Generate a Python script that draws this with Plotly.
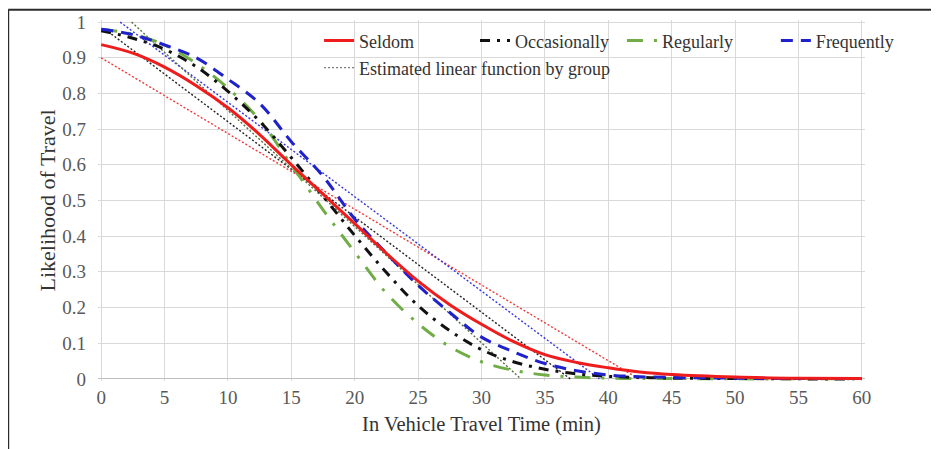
import plotly.graph_objects as go

# ---------------- data ----------------
time_min = [0, 2.5, 5, 7.5, 10, 12.5, 15, 17.5, 20, 22.5, 25, 27.5, 30,
            32.5, 35, 37.5, 40, 42.5, 45, 50, 55, 60]
seldom = [0.937, 0.913, 0.874, 0.822, 0.760, 0.685, 0.600, 0.518, 0.435, 0.352,
          0.274, 0.208, 0.153, 0.105, 0.068, 0.046, 0.031, 0.019, 0.012, 0.005,
          0.002, 0.001]
occasionally = [0.976, 0.955, 0.924, 0.875, 0.806, 0.722, 0.620, 0.512, 0.402,
                0.298, 0.205, 0.135, 0.082, 0.048, 0.027, 0.014, 0.007, 0.004,
                0.002, 0.001, 0.0, 0.0]
regularly = [0.980, 0.966, 0.936, 0.884, 0.815, 0.725, 0.600, 0.474, 0.355,
             0.240, 0.155, 0.090, 0.048, 0.024, 0.011, 0.005, 0.002, 0.001,
             0.001, 0.0, 0.0, 0.0]
frequently = [0.980, 0.965, 0.936, 0.900, 0.840, 0.772, 0.665, 0.568, 0.448,
              0.352, 0.262, 0.186, 0.117, 0.076, 0.043, 0.023, 0.011, 0.006,
              0.004, 0.002, 0.001, 0.001]

# estimated linear functions (end points)
seldom_lin_t, seldom_lin_p = [0, 42.4], [0.90, 0.0]
occas_lin_t, occas_lin_p = [0.3, 37.0], [0.98, 0.0]
regul_lin_t, regul_lin_p = [2.4, 33.1], [1.0, 0.0]
frequ_lin_t, frequ_lin_p = [1.5, 39.3], [1.0, 0.0]

x_ticks = [0, 5, 10, 15, 20, 25, 30, 35, 40, 45, 50, 55, 60]
y_ticks = [0, 0.1, 0.2, 0.3, 0.4, 0.5, 0.6, 0.7, 0.8, 0.9, 1]
y_tick_text = ["0", "0.1", "0.2", "0.3", "0.4", "0.5", "0.6", "0.7", "0.8", "0.9", "1"]

names = ["Seldom", "Occasionally", "Regularly", "Frequently"]
lin_name = "Estimated linear function by group"

# ---------------- layout geometry (screen pixels; page body has 8px margin) ----------------
OFF = 8
W, H = 939 - OFF, 449 - OFF
X0_PX, X60_PX = 101.0 - OFF, 862.0 - OFF
Y1_PX, Y0_PX = 22.3 - OFF, 378.8 - OFF
XR = [-0.25, 60.25]
YR = [-0.006, 1.006]
ppx = (X60_PX - X0_PX) / 60.0
ppy = (Y0_PX - Y1_PX) / 1.0
ML = X0_PX - (0 - XR[0]) * ppx
PW = (XR[1] - XR[0]) * ppx
MR = W - ML - PW
MT = Y1_PX - (YR[1] - 1) * ppy
PH = (YR[1] - YR[0]) * ppy
MB = H - MT - PH


def pxx(px):  # screen px -> paper x
    return (px - OFF - ML) / PW


def pxy(py):  # screen px -> paper y
    return (MT + PH - (py - OFF)) / PH


FONT = "Liberation Serif"
RED, BLACK, GREEN, BLUE = "#EE1C1C", "#111111", "#70AD47", "#1F22CC"

fig = go.Figure()

# linear (dotted) lines
fig.add_trace(go.Scatter(x=seldom_lin_t, y=seldom_lin_p, mode="lines", showlegend=False,
                         line=dict(color="#F03A3A", width=1.4, dash="2px,2px")))
fig.add_trace(go.Scatter(x=frequ_lin_t, y=frequ_lin_p, mode="lines", showlegend=False,
                         line=dict(color="#3535E0", width=1.4, dash="2px,2px")))
fig.add_trace(go.Scatter(x=occas_lin_t, y=occas_lin_p, mode="lines", showlegend=False,
                         line=dict(color="#222222", width=1.4, dash="2px,2px")))
fig.add_trace(go.Scatter(x=regul_lin_t, y=regul_lin_p, mode="lines", showlegend=False,
                         line=dict(color="#55703F", width=1.4, dash="2px,2px")))

# curves
fig.add_trace(go.Scatter(x=time_min, y=regularly, mode="lines", name=names[2], legend="legend3",
                         line=dict(color=GREEN, width=3, dash="16px,11px,3px,11px",
                                   shape="spline", smoothing=1.0)))
fig.add_trace(go.Scatter(x=time_min, y=occasionally, mode="lines", name=names[1], legend="legend2",
                         line=dict(color=BLACK, width=3, dash="10px,7px,3px,7px",
                                   shape="spline", smoothing=1.0)))
fig.add_trace(go.Scatter(x=time_min, y=frequently, mode="lines", name=names[3], legend="legend4",
                         line=dict(color=BLUE, width=3, dash="12px,8px",
                                   shape="spline", smoothing=1.0)))
fig.add_trace(go.Scatter(x=time_min, y=seldom, mode="lines", name=names[0], legend="legend",
                         line=dict(color=RED, width=3, shape="spline", smoothing=1.0)))
# legend proxy for the dotted lines
fig.add_trace(go.Scatter(x=[None], y=[None], mode="lines", name=lin_name, legend="legend5",
                         line=dict(color="#7a7a7a", width=1.2, dash="2px,2px")))

leg_font = dict(family=FONT, size=18, color="#333333")
TXT_OFF = 40


def leg(text_px, row_py):
    return dict(x=pxx(text_px - TXT_OFF), y=pxy(row_py), xanchor="left", yanchor="middle",
                bgcolor="rgba(0,0,0,0)", borderwidth=0, font=leg_font, itemwidth=30)


shapes = [
    # white box behind the legend (covers gridlines like the original)
    dict(type="rect", xref="paper", yref="paper", layer="between",
         x0=pxx(316), x1=pxx(905), y0=pxy(84), y1=pxy(27),
         fillcolor="white", line=dict(width=0)),
    # outer frame: top and left edges only
    dict(type="line", xref="paper", yref="paper", x0=pxx(8), x1=pxx(950), y0=pxy(10), y1=pxy(10),
         line=dict(color="#2b2b2b", width=2)),
    dict(type="line", xref="paper", yref="paper", x0=pxx(8), x1=pxx(8), y0=pxy(10), y1=pxy(460),
         line=dict(color="#2b2b2b", width=2)),
]

fig.update_layout(
    width=W, height=H, autosize=False,
    margin=dict(l=ML, r=MR, t=MT, b=MB, pad=0, autoexpand=False),
    paper_bgcolor="white", plot_bgcolor="white",
    font=dict(family=FONT, color="#333333"),
    shapes=shapes,
    legend=leg(359, 41),
    legend2=leg(515, 41),
    legend3=leg(662, 41),
    legend4=leg(816, 41),
    legend5=leg(359, 68),
    xaxis=dict(range=XR, tickmode="array", tickvals=x_ticks, ticktext=[str(v) for v in x_ticks],
               showgrid=True, gridcolor="#D9D9D9", gridwidth=1, zeroline=False, showline=False,
               automargin=False,
               tickfont=dict(family=FONT, size=19, color="#595959"), ticks="", ticklabelstandoff=3,
               title=dict(text="In Vehicle Travel Time (min)", font=dict(family=FONT, size=20.5, color="#333333"),
                          standoff=9)),
    yaxis=dict(range=YR, tickmode="array", tickvals=y_ticks, ticktext=y_tick_text,
               showgrid=True, gridcolor="#D9D9D9", gridwidth=1, zeroline=True,
               zerolinecolor="#BFBFBF", zerolinewidth=1, showline=False,
               automargin=False,
               tickfont=dict(family=FONT, size=19, color="#595959"), ticks="", ticklabelstandoff=11,
               title=dict(text="Likelihood of Travel", font=dict(family=FONT, size=22, color="#333333"),
                          standoff=0)),
)

fig.write_html("out.html")
